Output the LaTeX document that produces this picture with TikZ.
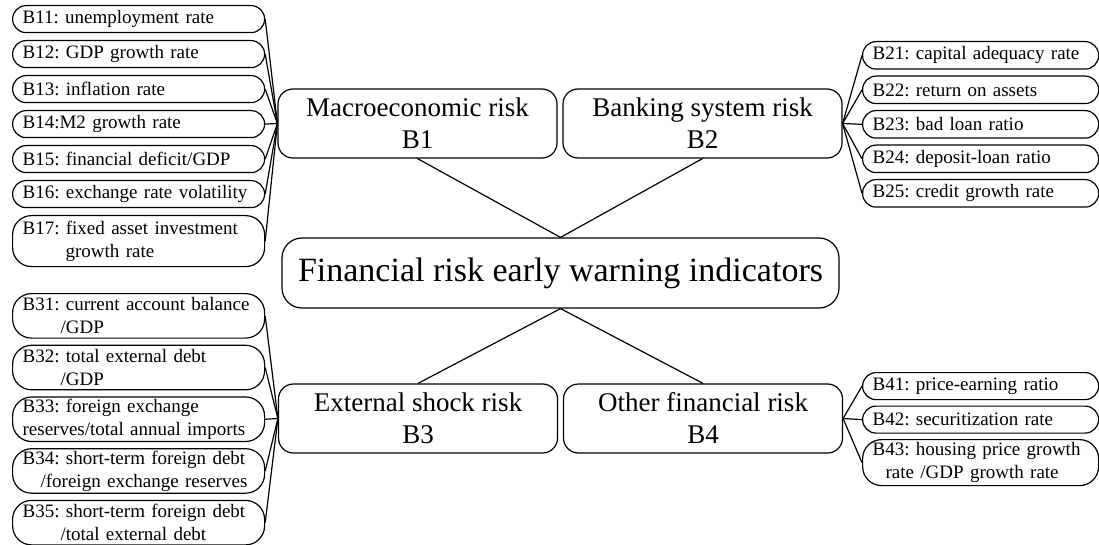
\documentclass[tikz,border=0pt]{standalone}
\usepackage{fontspec}
\setmainfont{Liberation Serif}
\usetikzlibrary{positioning}
\frenchspacing
\hyphenpenalty=10000
\exhyphenpenalty=10000

\begin{document}
\begin{tikzpicture}[
    x=1pt, y=-1pt,
    node distance=6pt,
    box/.style={rectangle, draw, line width=1.2pt, rounded corners=15pt, align=center, inner sep=0pt},
    risk/.style={box, minimum width=279pt, minimum height=69pt, font=\fontsize{27}{32}\selectfont},
    root/.style={box, rounded corners=20pt, minimum width=557pt, minimum height=70pt, font=\fontsize{34}{40}\selectfont},
    leaf/.style={box, rounded corners=13.5pt, align=left, inner xsep=10pt, text width=232pt, minimum height=27pt,
        font=\fontsize{19}{23}\selectfont},
    rleaf/.style={leaf, text width=216pt},
    tall/.style={minimum height=44.5pt, rounded corners=19pt},
    link/.style={line width=1.2pt}
]
\useasboundingbox (0,0) rectangle (1099,545);

% Root and the four risk groups
\node[root] (root) at (560.5,273) {Financial risk early warning indicators};
\node[risk] (m1) at (417.5,123.5) {Macroeconomic risk\\B1};
\node[risk] (m2) at (702.5,123.5) {Banking system risk\\B2};
\node[risk] (m3) at (418,418.5) {External shock risk\\B3};
\node[risk] (m4) at (703,418.5) {Other financial risk\\B4};

% B1 indicators
\node[leaf, anchor=north west] (b11) at (12,5) {B11: unemployment rate};
\node[leaf, below=6.8pt of b11] (b12) {B12: GDP growth rate};
\node[leaf, below=6.8pt of b12] (b13) {B13: inflation rate};
\node[leaf, below=6.8pt of b13] (b14) {B14:M2 growth rate};
\node[leaf, below=6.8pt of b14] (b15) {B15: financial deficit/GDP};
\node[leaf, below=6.8pt of b15] (b16) {B16: exchange rate volatility};
\node[leaf, tall, below=6.8pt of b16, minimum height=51pt] (b17) {B17: fixed asset investment\\\hspace*{43pt}growth rate};

% B2 indicators
\node[rleaf, anchor=north west, minimum height=27.5pt] (b21) at (862,41) {B21: capital adequacy rate};
\node[rleaf, below=5.8pt of b21, minimum height=27.5pt] (b22) {B22: return on assets};
\node[rleaf, below=5.8pt of b22, minimum height=27.5pt] (b23) {B23: bad loan ratio};
\node[rleaf, below=5.8pt of b23, minimum height=27.5pt] (b24) {B24: deposit-loan ratio};
\node[rleaf, below=5.8pt of b24, minimum height=27.5pt] (b25) {B25: credit growth rate};

% B3 indicators
\node[leaf, tall, anchor=north west] (b31) at (12,293) {\mbox{B31: current account balance}\\\hspace*{38pt}/GDP};
\node[leaf, tall, below=of b31] (b32) {B32: total external debt\\\hspace*{38pt}/GDP};
\node[leaf, tall, below=of b32] (b33) {B33: foreign exchange\\reserves/total annual imports};
\node[leaf, tall, below=of b33] (b34) {B34: short-term foreign debt\\\hspace*{18pt}/foreign exchange reserves};
\node[leaf, tall, below=of b34] (b35) {B35: short-term foreign debt\\\hspace*{38pt}/total external debt};

% B4 indicators
\node[rleaf, anchor=north west] (b41) at (862,372) {B41: price-earning ratio};
\node[rleaf, below=5.3pt of b41] (b42) {B42: securitization rate};
\node[rleaf, tall, below=5.3pt of b42, minimum height=46pt] (b43) {B43: housing price growth\\\hspace*{13pt}rate /GDP growth rate};

% Links
\draw[link] (m1.south) -- (root.north);
\draw[link] (m2.south) -- (root.north);
\draw[link] (m3.north) -- (root.south);
\draw[link] (m4.north) -- (root.south);
\foreach \i in {11,...,17} \draw[link] (b\i.east) -- (m1.west);
\foreach \i in {21,...,25} \draw[link] (m2.east) -- (b\i.west);
\foreach \i in {31,...,35} \draw[link] (b\i.east) -- (m3.west);
\foreach \i in {41,42,43} \draw[link] (m4.east) -- (b\i.west);

\end{tikzpicture}
\end{document}
